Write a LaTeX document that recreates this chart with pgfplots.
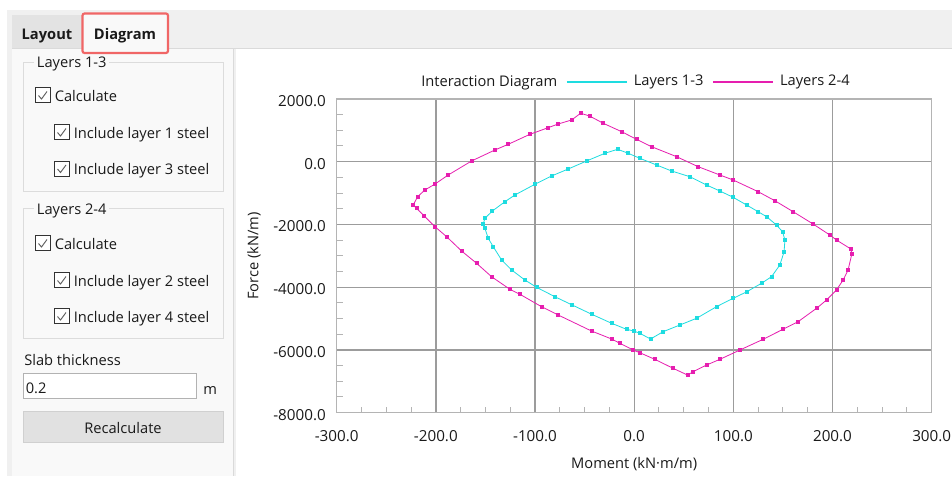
\documentclass[border=0pt]{standalone}
\usepackage{pgfplots}
\pgfplotsset{compat=1.18}
\usepackage{fontspec}
\setmainfont{Open Sans}
\definecolor{tabbg}{HTML}{F0F0F0}
\definecolor{panelbg}{HTML}{F9F9F9}
\definecolor{sepc}{HTML}{DADADA}
\definecolor{tabsel}{HTML}{E3E3E3}
\definecolor{redbox}{HTML}{F06666}
\definecolor{grpline}{HTML}{DCDCDC}
\definecolor{uitext}{HTML}{1A1A1A}
\definecolor{cbborder}{HTML}{333333}
\definecolor{cbcheck}{HTML}{606060}
\definecolor{btnfill}{HTML}{E1E1E1}
\definecolor{btnline}{HTML}{D0D0D0}
\definecolor{gridc}{HTML}{9C9C9C}
\definecolor{axisc}{HTML}{B4B4B4}
\definecolor{cyanc}{HTML}{1EDCE0}
\definecolor{magc}{HTML}{E61EAF}
\newcommand{\chk}[3]{%
  \draw[cbborder, fill=white, line width=0.6pt] (#1,#2-7.5) rectangle (#1+15,#2+7.5);
  \draw[cbcheck, line width=0.7pt] (#1+3.5,#2+0.5) -- (#1+6.5,#2+4) -- (#1+12,#2-3.5);
  \node[anchor=base west, inner sep=0pt] at (#1+19.5,#2+6) {#3};}
\begin{document}
\begin{tikzpicture}[font=\fontsize{11}{13}\selectfont, every node/.append style={text=uitext}]
\begin{scope}[x=0.75pt,y=-0.75pt]
\useasboundingbox (0,0) rectangle (952,476);
\fill[white] (0,0) rectangle (952,476);
\fill[tabbg] (7,10) rectangle (952,476);
\fill[panelbg] (12,48) rectangle (233,476);
\draw[sepc, line width=0.75pt] (233.5,48) -- (233.5,476);
\fill[white] (236,49) rectangle (952,476);
\draw[sepc, line width=0.75pt] (12,48.5) -- (952,48.5);
% tabs
\fill[tabsel] (12,15) rectangle (82,48);
\node[anchor=base, inner sep=0pt, font=\fontsize{11}{13}\selectfont\bfseries] at (47,39) {Layout};
\fill[panelbg] (83,13) rectangle (168,52);
\node[anchor=base, inner sep=0pt, font=\fontsize{11}{13}\selectfont\bfseries] at (125,39) {Diagram};
\draw[redbox, line width=1.6pt, rounded corners=1.5pt] (82.5,13.5) rectangle (168,53);
% group 1
\draw[grpline, line width=0.75pt] (23,62) rectangle (223,191);
\node[anchor=base west, fill=panelbg, inner xsep=2pt, inner ysep=0pt] at (34,67) {Layers 1-3};
\chk{35}{95}{Calculate}
\chk{54}{132}{Include layer 1 steel}
\chk{54}{168.5}{Include layer 3 steel}
% group 2
\draw[grpline, line width=0.75pt] (23,208) rectangle (223,338);
\node[anchor=base west, fill=panelbg, inner xsep=2pt, inner ysep=0pt] at (34,214) {Layers 2-4};
\chk{35}{243}{Calculate}
\chk{54}{280}{Include layer 2 steel}
\chk{54}{316}{Include layer 4 steel}
% slab thickness
\node[anchor=base west, inner sep=0pt] at (24,365) {Slab thickness};
\draw[black!30, fill=white, line width=0.75pt] (23,373) rectangle (196,398);
\node[anchor=base west, inner sep=0pt] at (25.5,393.5) {0.2};
\node[anchor=base west, inner sep=0pt] at (203,394) {m};
\draw[btnline, fill=btnfill, line width=0.75pt] (23,411) rectangle (223,442);
\node[anchor=base, inner sep=0pt] at (123,433.5) {Recalculate};
\end{scope}
\begin{axis}[
  at={(252.5pt,-309.5pt)}, anchor=south west,
  scale only axis, width=446.25pt, height=235.3pt,
  xmin=-300, xmax=300, ymin=-8000, ymax=2000,
  xtick={-300,-200,...,300},
  xticklabels={-300.0,-200.0,-100.0,0.0,100.0,200.0,300.0},
  ytick={-8000,-6000,...,2000},
  yticklabels={-8000.0,-6000.0,-4000.0,-2000.0,0.0,2000.0},
  scaled ticks=false,
  minor x tick num=3, minor y tick num=3,
  tick pos=left, tick align=inside,
  major tick length=0pt, minor tick length=4.5pt,
  every tick/.style={color=axisc, line width=0.75pt},
  grid=major, major grid style={line width=1pt, color=gridc},
  axis line style={line width=1.2pt, color=axisc},
  tick label style={font=\fontsize{11.4}{13}\selectfont},
  xticklabel style={anchor=base, inner sep=0pt, yshift=-21.75pt},
  yticklabel style={anchor=east, inner sep=0pt, xshift=-8pt, yshift=-1.5pt},
  xlabel={Moment (kN·m/m)}, ylabel={Force (kN/m)},
  every axis x label/.style={at={(axis description cs:0.5,0)}, anchor=base, yshift=-41.7pt},
  every axis y label/.style={at={(axis description cs:0,0.5)}, xshift=-62pt, rotate=90, anchor=center},
  legend columns=3,
  legend style={at={(0.5,1)}, anchor=south, yshift=8pt, draw=none, fill=none, inner sep=0pt,
    column sep=2pt, nodes={inner xsep=2.5pt, inner ysep=0pt, text=uitext},
    /tikz/every even column/.append style={column sep=4pt}},
  legend image code/.code={\draw[#1, line width=1.4pt] (0pt,0pt) -- (45pt,0pt);},
]
\addlegendimage{empty legend}
\addlegendentry{Interaction Diagram}
\addplot[color=cyanc, line width=0.6pt, mark=square*, mark size=1.1pt, mark options={draw=none, fill=cyanc}] coordinates {
(-16.7,395) (-6,268) (5.7,108) (22.6,-105) (37.7,-296) (56.1,-478) (73,-743) (86.4,-934)
(99.8,-1135) (113.3,-1380) (125,-1594) (133.5,-1753) (143.5,-2018) (149.6,-2231) (152,-2496)
(151.2,-2869) (146.9,-3293) (138.5,-3666) (128.4,-3876) (113.3,-4150) (99.8,-4355) (83,-4622)
(62.9,-4992) (46,-5206) (29.2,-5419) (16.5,-5652) (5.7,-5470) (0,-5400) (-7.7,-5343)
(-22.8,-5150) (-43,-4860) (-63,-4560) (-80,-4303) (-98.4,-4004) (-110.2,-3771) (-123.6,-3452)
(-133.7,-3134) (-142.1,-2710) (-147.2,-2442) (-150.5,-2123) (-152.2,-1986) (-150.5,-1805)
(-143,-1572) (-130.3,-1275) (-120.3,-1062) (-100.1,-721) (-83.3,-456) (-66.5,-233) (-48,22)
(-29.5,268) (-16.7,395)
};
\addlegendentry{Layers 1-3}
\addplot[color=magc, line width=0.6pt, mark=square*, mark size=1.1pt, mark options={draw=none, fill=magc}] coordinates {
(-54,1543) (-45,1457) (-31.2,1224) (-12.7,957) (2.4,713) (17.5,478) (42.7,160) (64.5,-159)
(86.4,-424) (99.8,-583) (125,-956) (141.8,-1243) (160.3,-1594) (180.4,-1986) (197.3,-2337)
(204,-2496) (218.5,-2783) (219.5,-2942) (215.7,-3452) (210.7,-3771) (204,-4090) (194,-4409)
(183.9,-4673) (165.3,-5100) (150.2,-5340) (130,-5662) (106.6,-6003) (86.4,-6300) (73,-6481)
(59.5,-6694) (53.8,-6800) (39.3,-6587) (20.9,-6300) (5.7,-6089) (-1,-6003) (-14.4,-5789)
(-22.8,-5650) (-43,-5397) (-76.6,-4887) (-93.4,-4622) (-115.2,-4227) (-125.3,-4068)
(-143.8,-3666) (-158.9,-3239) (-174,-2847) (-189.1,-2391) (-200.9,-2072) (-211.7,-1731)
(-219.4,-1486) (-222.8,-1380) (-218.4,-1116) (-211,-902) (-200.9,-714) (-187.5,-424)
(-164,22) (-140.4,373) (-127,554) (-105.1,873) (-86.7,1084) (-76.6,1202) (-63.1,1329)
(-54,1543)
};
\addlegendentry{Layers 2-4}
\end{axis}
\end{tikzpicture}
\end{document}
